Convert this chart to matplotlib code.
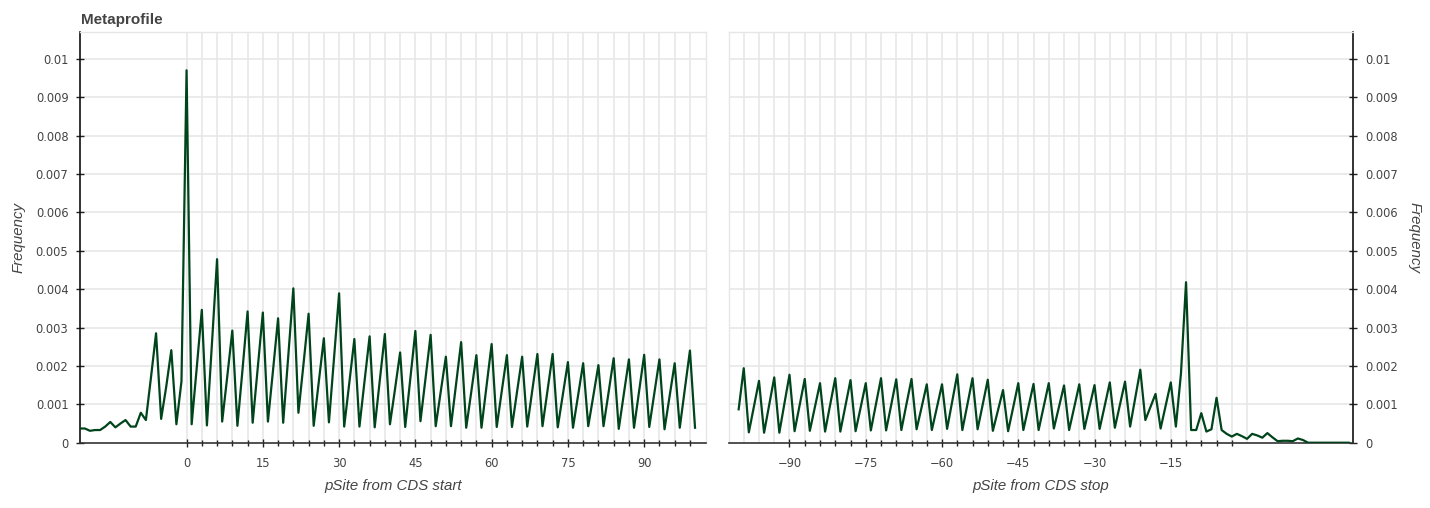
import matplotlib
matplotlib.use("Agg")
import matplotlib.pyplot as plt
from matplotlib.ticker import FixedLocator, FixedFormatter

plt.rcParams['font.family'] = ['Liberation Sans', 'DejaVu Sans']

# ---------------- data ----------------
start_pos = list(range(-21, 101))
start_freq = [
    0.00037, 0.00037, 0.00031, 0.00033, 0.00033, 0.00042, 0.00054, 0.00040, 0.00050, 0.00059,
    0.00042, 0.00042, 0.00078, 0.00059, 0.00170, 0.00285, 0.00062, 0.00146, 0.00241, 0.00048,
    0.00160, 0.00970, 0.00048, 0.00195, 0.00346, 0.00045, 0.00260, 0.00478, 0.00055, 0.00172,
    0.00292, 0.00044, 0.00190, 0.00342, 0.00052, 0.00195, 0.00339, 0.00055, 0.00188, 0.00324,
    0.00052, 0.00225, 0.00402, 0.00078, 0.00205, 0.00336, 0.00044, 0.00158, 0.00272, 0.00053,
    0.00220, 0.00389, 0.00042, 0.00155, 0.00270, 0.00042, 0.00160, 0.00277, 0.00040, 0.00162,
    0.00283, 0.00048, 0.00140, 0.00235, 0.00041, 0.00166, 0.00291, 0.00056, 0.00168, 0.00281,
    0.00043, 0.00134, 0.00224, 0.00043, 0.00152, 0.00262, 0.00039, 0.00133, 0.00228, 0.00039,
    0.00148, 0.00257, 0.00041, 0.00135, 0.00228, 0.00041, 0.00133, 0.00224, 0.00042, 0.00137,
    0.00231, 0.00043, 0.00137, 0.00231, 0.00040, 0.00125, 0.00210, 0.00039, 0.00123, 0.00207,
    0.00043, 0.00122, 0.00202, 0.00043, 0.00131, 0.00220, 0.00036, 0.00127, 0.00217, 0.00039,
    0.00134, 0.00229, 0.00041, 0.00129, 0.00217, 0.00035, 0.00121, 0.00207, 0.00039, 0.00140,
    0.00240, 0.00039,
]

stop_pos = list(range(-100, 21))
stop_freq = [
    0.00087, 0.00194, 0.00027, 0.00094, 0.00161, 0.00026, 0.00098, 0.00170, 0.00026, 0.00102,
    0.00177, 0.00030, 0.00098, 0.00166, 0.00031, 0.00093, 0.00155, 0.00029, 0.00099, 0.00168,
    0.00029, 0.00096, 0.00163, 0.00030, 0.00092, 0.00155, 0.00032, 0.00100, 0.00168, 0.00032,
    0.00098, 0.00165, 0.00033, 0.00100, 0.00166, 0.00035, 0.00093, 0.00152, 0.00033, 0.00092,
    0.00152, 0.00036, 0.00107, 0.00178, 0.00033, 0.00100, 0.00168, 0.00035, 0.00099, 0.00164,
    0.00031, 0.00084, 0.00137, 0.00030, 0.00092, 0.00155, 0.00033, 0.00093, 0.00153, 0.00033,
    0.00094, 0.00155, 0.00037, 0.00093, 0.00149, 0.00033, 0.00092, 0.00152, 0.00036, 0.00093,
    0.00150, 0.00036, 0.00096, 0.00157, 0.00039, 0.00099, 0.00159, 0.00042, 0.00116, 0.00190,
    0.00059, 0.00093, 0.00127, 0.00037, 0.00097, 0.00157, 0.00042, 0.00180, 0.00418, 0.00033,
    0.00033, 0.00077, 0.00029, 0.00035, 0.00117, 0.00033, 0.00023, 0.00016, 0.00023, 0.00017,
    0.00010, 0.00023, 0.00019, 0.00013, 0.00025, 0.00014, 0.00004, 0.00005, 0.00005, 0.00004,
    0.00011, 0.00007, 0.00000, 0.00000, 0.00000, 0.00000, 0.00000, 0.00000, 0.00000, 0.00000,
    0.00000,
]

y_ticks = [0, 0.001, 0.002, 0.003, 0.004, 0.005, 0.006, 0.007, 0.008, 0.009, 0.01]
y_tick_labels = ["0", "0.001", "0.002", "0.003", "0.004", "0.005", "0.006", "0.007", "0.008", "0.009", "0.01"]

start_major = [0, 15, 30, 45, 60, 75, 90]
start_minor = list(range(0, 100, 3))
start_grid = list(range(0, 100, 3))
stop_major = [-90, -75, -60, -45, -30, -15]
stop_minor = list(range(-90, 0, 3))
stop_grid = list(range(-99, 1, 3))

title = "Metaprofile"
xlabel_start = "pSite from CDS start"
xlabel_stop = "pSite from CDS stop"
ylabel = "Frequency"

# ---------------- style ----------------
W, H = 1430, 508
fig = plt.figure(figsize=(W / 100, H / 100), dpi=100)
line_color = "#00441b"
grid_color = "#e6e6e6"
text_color = "#444444"
tick_font = 'DejaVu Sans'

def px_axes(x0, x1, y0, y1):
    return fig.add_axes([x0 / W, (H - y1) / H, (x1 - x0) / W, (y1 - y0) / H])

ax1 = px_axes(80.3, 705.7, 32.3, 442.7)
ax2 = px_axes(729.0, 1353.3, 32.3, 442.7)

ylim = (0, 0.01069)

def style(ax, pos, freq, xlim, major, minor, grid, xlabel, yside):
    ax.set_xlim(*xlim)
    ax.set_ylim(*ylim)
    for g in grid:
        ax.axvline(g, color=grid_color, lw=1.1, zorder=0)
    for yt in y_ticks[1:]:
        ax.axhline(yt, color=grid_color, lw=1.1, zorder=0)
    ax.plot(pos, freq, color=line_color, lw=1.6, zorder=3)
    if yside == "right":
        ax.yaxis.tick_right()
    ax.xaxis.set_major_locator(FixedLocator(major))
    ax.xaxis.set_minor_locator(FixedLocator(minor))
    ax.set_xticklabels([str(m).replace("-", "\u2212") for m in major])
    ax.yaxis.set_major_locator(FixedLocator(y_ticks))
    ax.yaxis.set_major_formatter(FixedFormatter(y_tick_labels))
    ax.tick_params(axis="x", which="major", direction="inout", length=6, width=1,
                   color="#222222", labelsize=8.3, labelcolor=text_color, pad=7,
                   labelfontfamily=tick_font)
    ax.tick_params(axis="x", which="minor", direction="inout", length=4, width=1,
                   color="#222222")
    ax.tick_params(axis="y", which="major", direction="inout", length=6, width=1,
                   color="#222222", labelsize=8.3, labelcolor=text_color, pad=5.5,
                   labelfontfamily=tick_font)
    for s in ax.spines.values():
        s.set_color(grid_color)
        s.set_linewidth(1.0)
    ax.spines["bottom"].set_color("#333333")
    ax.spines["bottom"].set_linewidth(1.2)
    side = "left" if yside == "left" else "right"
    ax.spines[side].set_color("#111111")
    ax.spines[side].set_linewidth(1.2)
    ax.set_xlabel(xlabel, fontsize=10.8, style="italic", color=text_color, labelpad=7)
    ax.set_facecolor("white")

style(ax1, start_pos, start_freq, (-20.9, 102.1), start_major, start_minor, start_grid,
      xlabel_start, "left")
style(ax2, stop_pos, stop_freq, (-101.9, 20.9), stop_major, stop_minor, stop_grid,
      xlabel_stop, "right")

fig.text(18.5 / W, 1 - 237 / H, ylabel, rotation=90, ha="center", va="center",
         fontsize=10.8, style="italic", color=text_color)
fig.text(1415 / W, 1 - 237 / H, ylabel, rotation=-90, ha="center", va="center",
         fontsize=10.8, style="italic", color=text_color)
fig.text(81 / W, 1 - 20 / H, title, ha="left", va="center", fontsize=11,
         fontweight="bold", color=text_color)

fig.savefig("out.png", dpi=100)
